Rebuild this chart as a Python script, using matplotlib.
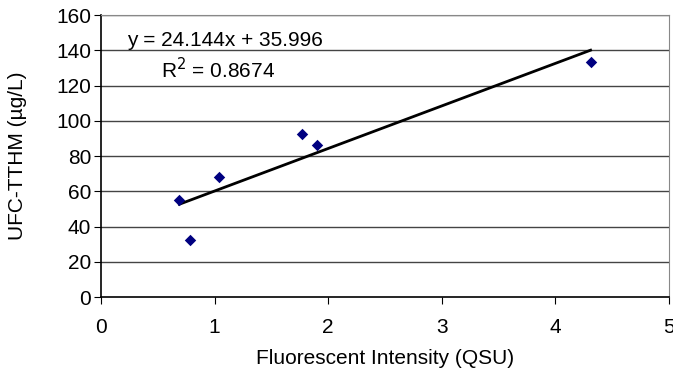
import matplotlib
matplotlib.use("Agg")
import matplotlib.pyplot as plt
import numpy as np

plt.rcParams['font.family'] = ['Liberation Sans', 'DejaVu Sans']

x_vals = [0.69, 0.78, 1.04, 1.77, 1.90, 4.31]
y_vals = [55.0, 32.3, 68.3, 92.5, 86.5, 133.5]
slope = 24.144
intercept = 35.996
r2 = 0.8674
x_ticks = [0, 1, 2, 3, 4, 5]
y_ticks = [0, 20, 40, 60, 80, 100, 120, 140, 160]

fig = plt.figure(figsize=(6.73, 3.76), dpi=100)
ax = fig.add_axes([0.150, 0.210, 0.844, 0.750])

for yt in y_ticks[1:]:
    ax.axhline(yt, color='#444444', lw=1.0, zorder=1)

ax.scatter(x_vals, y_vals, marker='D', s=34, color='#000080', zorder=3, linewidths=0)
xl = np.array([min(x_vals), max(x_vals)])
ax.plot(xl, slope * xl + intercept, color='black', lw=2.0, zorder=2)

ax.set_xlim(0, 5)
ax.set_ylim(0, 160)
ax.set_xticks(x_ticks)
ax.set_yticks(y_ticks)
ax.tick_params(axis='both', labelsize=15, direction='out', length=5, color='black')
ax.tick_params(axis='x', pad=10)
ax.tick_params(axis='y', pad=2)
for s in ['top', 'right']:
    ax.spines[s].set_color('#888888')
for s in ['left', 'bottom']:
    ax.spines[s].set_color('black')
    ax.spines[s].set_linewidth(1.2)

ax.set_xlabel('Fluorescent Intensity (QSU)', fontsize=15, labelpad=9)
ax.set_ylabel('UFC-TTHM (µg/L)', fontsize=15, labelpad=21)

ax.text(1.09, 145.5, f'y = {slope}x + {intercept}', fontsize=15, ha='center', va='center')
ax.text(1.03, 129.0, f'R$^2$ = {r2}', fontsize=15, ha='center', va='center')

fig.savefig('out.png', dpi=100)
